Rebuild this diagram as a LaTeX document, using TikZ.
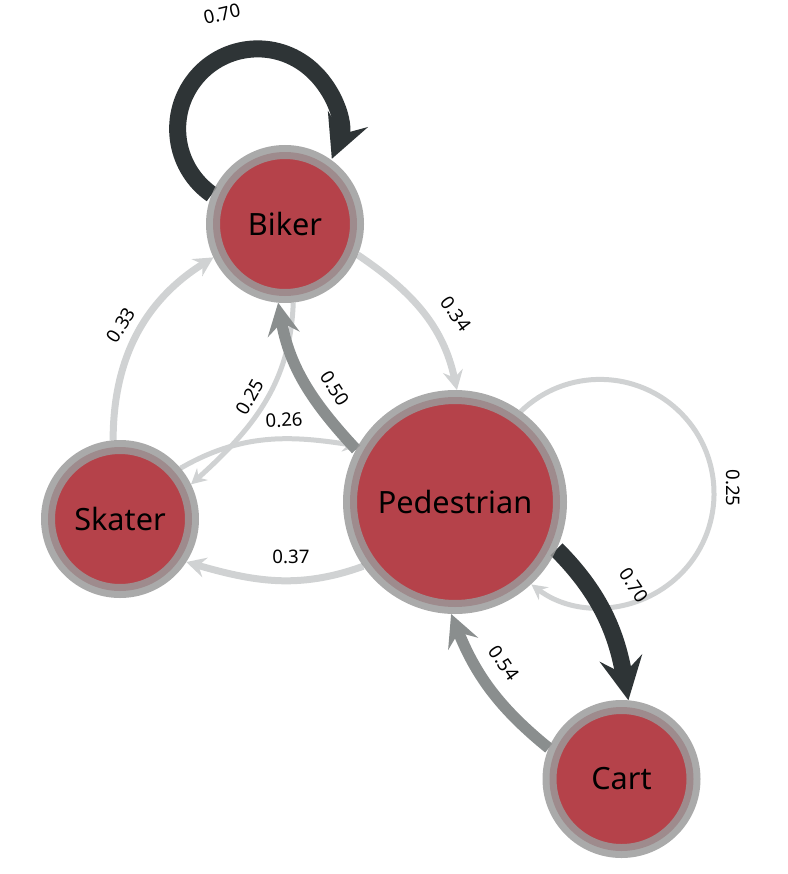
\documentclass[tikz,border=0pt]{standalone}
\usepackage{fontspec}
\setmainfont{Noto Sans}
\usetikzlibrary{arrows.meta,backgrounds}
\definecolor{vertexred}{RGB}{181,66,74}
\definecolor{ringgray}{RGB}{154,154,154}
\definecolor{edgedark}{RGB}{46,52,54}
\definecolor{edgemid}{RGB}{138,142,142}
\definecolor{edgelight}{RGB}{208,210,211}

\begin{document}
\begin{tikzpicture}[x=0.75pt,y=0.75pt]
		\tikzstyle{VertexStyle} = [circle, fill=vertexred, draw=ringgray, draw opacity=0.84, line width=10.5pt, minimum size=108pt, inner sep=0pt, font=\fontsize{23}{23}\selectfont]
		\tikzstyle{BigVertex}   = [VertexStyle, minimum size=157.5pt]
		\tikzstyle{EdgeDark}    = [draw=edgedark, line width=12.75pt, -{Stealth[length=32pt,width=32pt,inset=12pt]}]
		\tikzstyle{EdgeMid}     = [draw=edgemid, line width=8.5pt, -{Stealth[length=24pt,width=24pt,inset=9pt]}]
		\tikzstyle{EdgeLight}   = [draw=edgelight, line width=5.25pt, -{Stealth[length=14.5pt,width=15pt,inset=5pt]}]
		\tikzstyle{EdgeThin}    = [draw=edgelight, line width=3.75pt, -{Stealth[length=11.5pt,width=12pt,inset=4pt]}]
		\tikzstyle{Weight}      = [font=\fontsize{14}{14}\selectfont, inner sep=1pt]

		\useasboundingbox (0,0) rectangle (788,-874);
		\node[VertexStyle] (Biker) at (285,-224) {Biker};
		\node[BigVertex] (Pedestrian) at (455,-502) {Pedestrian};
		\node[VertexStyle] (Skater) at (120,-519) {Skater};
		\node[VertexStyle] (Cart) at (621.5,-779) {Cart};

		\begin{scope}[on background layer]
		\draw[EdgeThin] (Biker.-84) to[out=-92,in=42] (Skater.26);
		\draw[EdgeThin] (Skater.40) to[out=30,in=171] (Pedestrian.150);
		\draw[EdgeThin] (Pedestrian.54) arc[start angle=134,end angle=-127,radius=114];
		\draw[EdgeLight] (Biker.-23) to[out=-34,in=102] (Pedestrian.89);
		\draw[EdgeLight] (Pedestrian.215) to[out=200,in=-16] (Skater.-33);
		\draw[EdgeLight] (Skater.95) to[out=90,in=212] (Biker.205);
		\draw[EdgeMid] (Pedestrian.152) to[out=133,in=-80] (Biker.265);
		\draw[EdgeMid] (Cart.157) to[out=141,in=-68] (Pedestrian.268);
		\draw[EdgeDark] (Pedestrian.-25) to[out=-45,in=100] (Cart.85);
		\draw[EdgeDark] (Biker.158) arc[start angle=235,end angle=-22,radius=80];
		\end{scope}

		\node[Weight, rotate=13] (wBB) at (222,-14) {0.70};
		\node[Weight, rotate=-54] (wBP) at (456,-314) {0.34};
		\node[Weight, rotate=-57] (wPB) at (335,-388) {0.50};
		\node[Weight, rotate=60] (wBS) at (250,-397) {0.25};
		\node[Weight, rotate=57] (wSB) at (121,-325) {0.33};
		\node[Weight, rotate=3] (wSP) at (284,-420) {0.26};
		\node[Weight] (wPS) at (291,-557) {0.37};
		\node[Weight, rotate=-90] (wPP) at (733,-488) {0.25};
		\node[Weight, rotate=-56] (wPC) at (634,-585) {0.70};
		\node[Weight, rotate=-55] (wCP) at (504,-663) {0.54};
	\end{tikzpicture}
\end{document}
